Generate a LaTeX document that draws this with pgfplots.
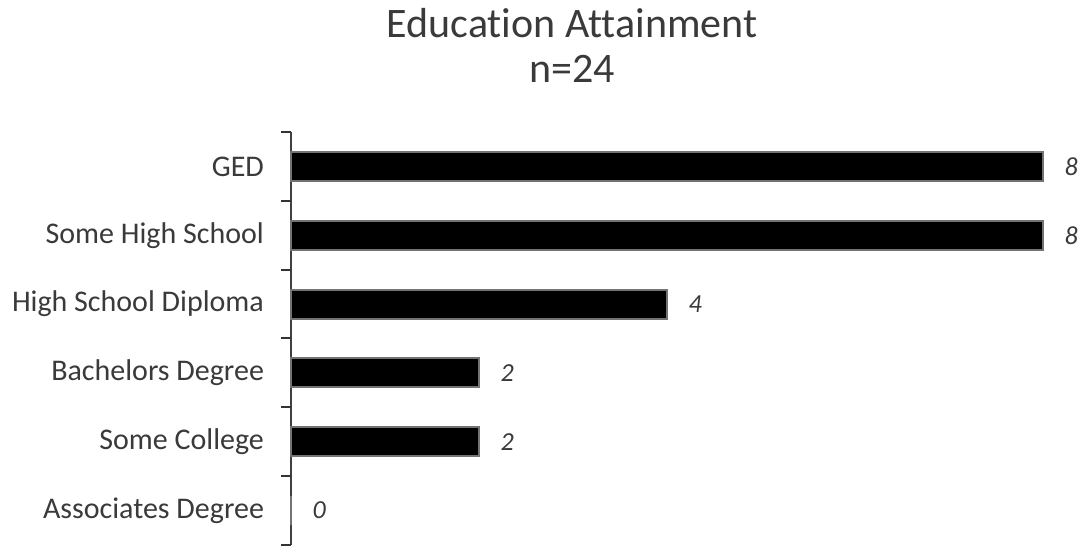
\documentclass[border=0pt]{standalone}
\usepackage{pgfplots}
\pgfplotsset{compat=1.18}
\usepackage{fontspec}
\setmainfont[Ligatures=NoCommon]{Carlito}
\definecolor{txt}{HTML}{3A3A3A}
\begin{document}
\begin{tikzpicture}[x=0.5pt,y=0.5pt]
\path[use as bounding box] (-291,-1) rectangle (792,545);
\begin{axis}[
  at={(0,0)}, anchor=south west,
  scale only axis,
  width=376pt, height=206.5pt,
  xbar, bar width=0.42,
  xmin=0, xmax=8,
  ymin=-0.5, ymax=5.5,
  axis x line=none,
  axis y line*=left,
  y axis line style={draw=black!75, line width=1pt, -},
  ytick={0,1,2,3,4,5},
  yticklabels={Associates Degree,Some College,Bachelors Degree,High School Diploma,Some High School,GED},
  major tick length=0pt,
  extra y ticks={-0.5,0.5,1.5,2.5,3.5,4.5,5.5},
  extra y tick labels={},
  extra y tick style={major tick length=5pt, tick align=outside, tick style={draw=black!80, line width=1pt}},
  yticklabel style={font=\fontsize{15}{17}\selectfont, text=txt, xshift=-10pt},
  /pgf/number format/assume math mode=true,
  nodes near coords,
  every node near coord/.append style={font=\fontsize{13}{15}\selectfont\itshape, text=txt, xshift=7pt},
  clip=false,
]
\addplot[fill=black, draw=black!55, line width=1pt] coordinates {
  (0,0) (2,1) (2,2) (4,3) (8,4) (8,5)
};
\end{axis}
\node[font=\fontsize{21}{22.5}\selectfont, text=txt, align=center] at (281,500) {Education Attainment\\n=24};
\end{tikzpicture}
\end{document}
